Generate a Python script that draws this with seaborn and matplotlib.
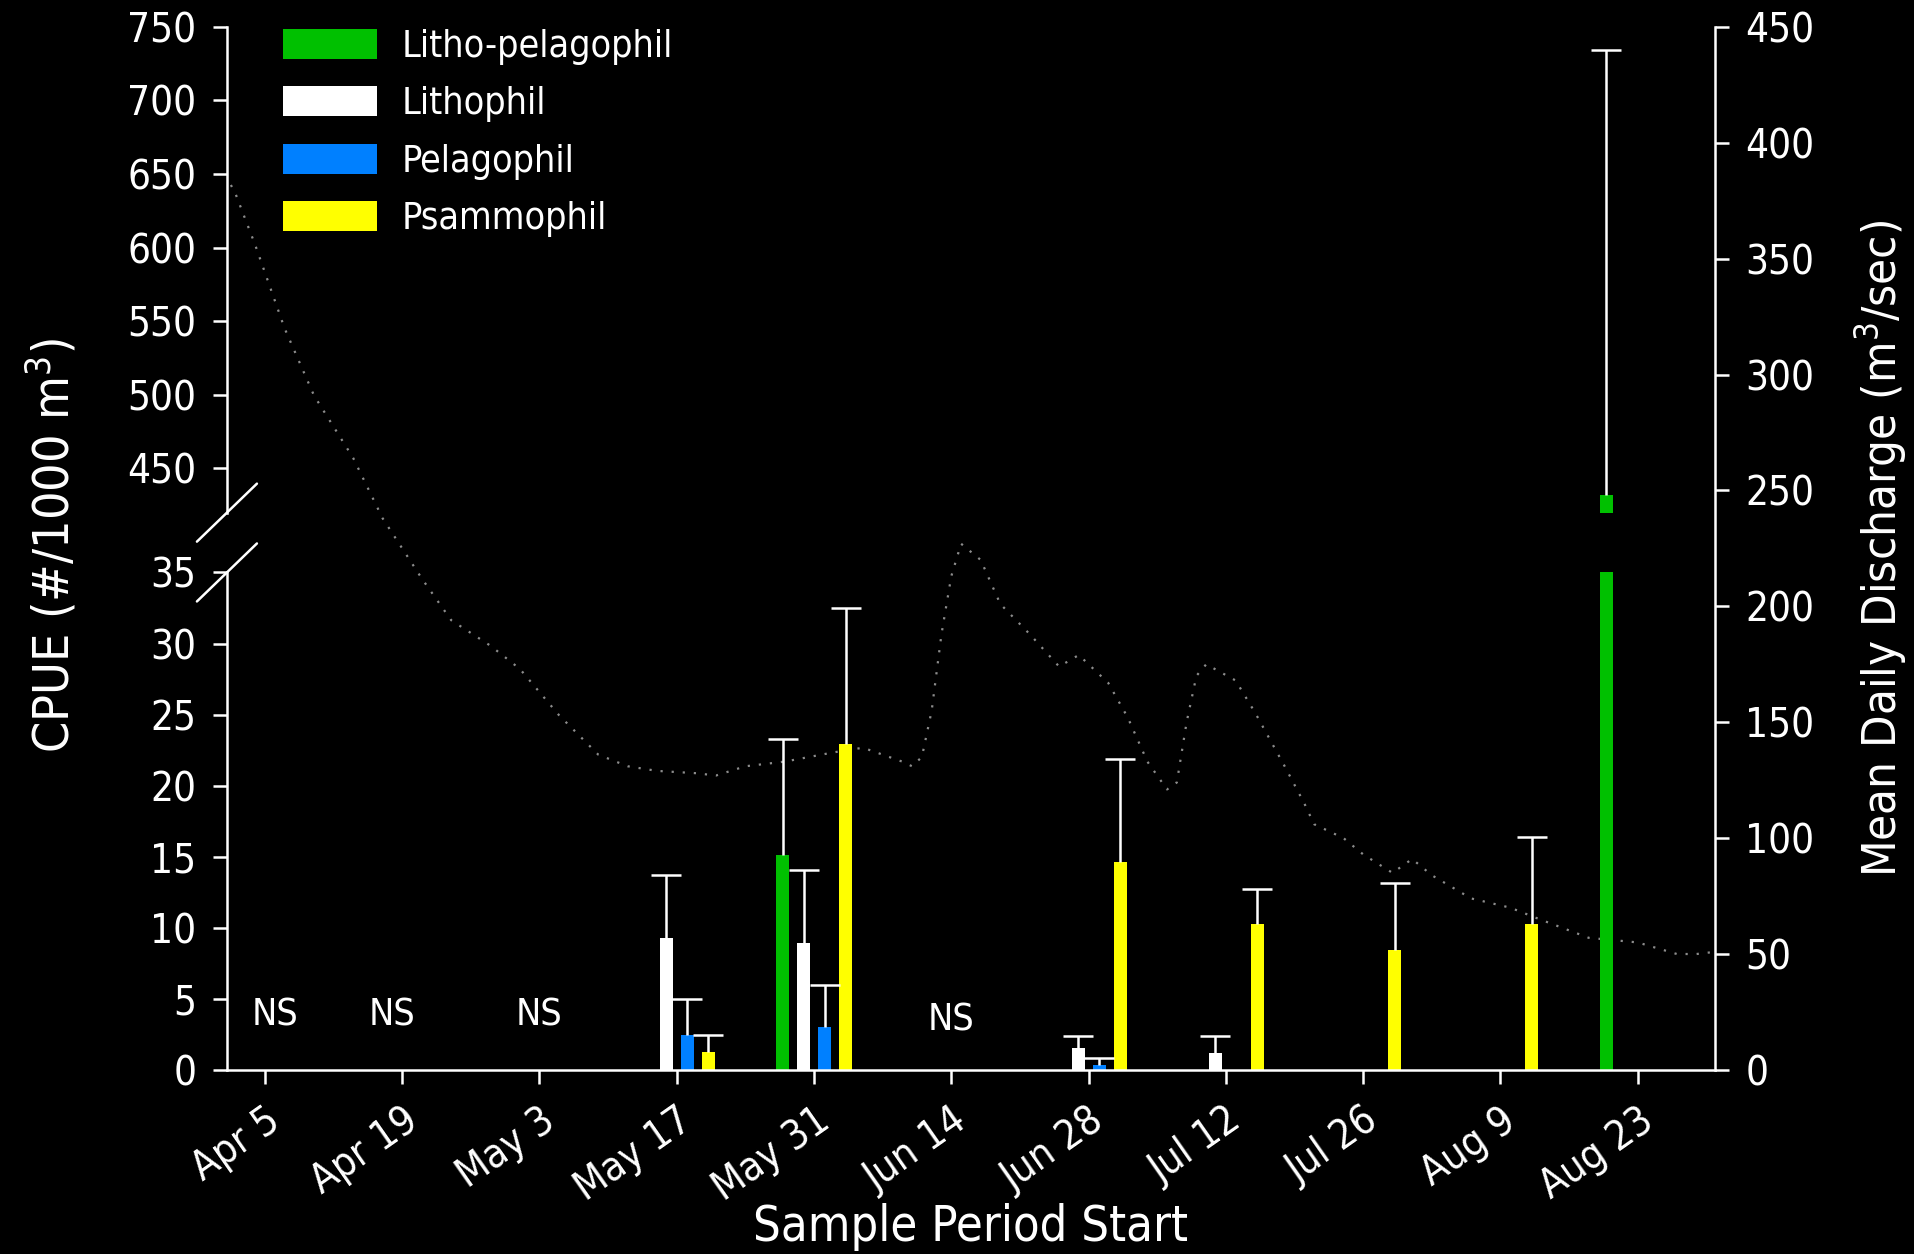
import numpy as np
import pandas as pd
import matplotlib
matplotlib.use("Agg")
import matplotlib.pyplot as plt
import matplotlib.dates as mdates
import seaborn as sns
from matplotlib.patches import Patch
from matplotlib.lines import Line2D
from matplotlib.ticker import FuncFormatter, MultipleLocator

# --- data ---
guilds = ['Litho-pelagophil', 'Lithophil', 'Pelagophil', 'Psammophil']
guild_colors = ['#00c000', '#ffffff', '#0080ff', '#ffff00']

bar_dates = ['2012-05-17', '2012-05-17', '2012-05-17',
             '2012-05-31', '2012-05-31', '2012-05-31', '2012-05-31',
             '2012-06-28', '2012-06-28', '2012-06-28',
             '2012-07-12', '2012-07-12',
             '2012-07-26', '2012-08-09', '2012-08-23']
bar_guilds = ['Lithophil', 'Pelagophil', 'Psammophil',
              'Litho-pelagophil', 'Lithophil', 'Pelagophil', 'Psammophil',
              'Lithophil', 'Pelagophil', 'Psammophil',
              'Lithophil', 'Psammophil',
              'Psammophil', 'Psammophil', 'Litho-pelagophil']
bar_cpue = [9.3, 2.47, 1.28,
            15.15, 8.9, 3.03, 22.9,
            1.57, 0.37, 14.6,
            1.22, 10.25,
            8.42, 10.25, 432.0]
bar_err = [4.4, 2.5, 1.19,
           8.1, 5.17, 2.97, 9.6,
           0.82, 0.48, 7.3,
           1.19, 2.45,
           4.73, 6.15, 302.0]

ns_dates = ['2012-04-06', '2012-04-18', '2012-05-03', '2012-06-14']
ns_y = [3.8, 3.8, 3.8, 3.45]

q_dates = ['2012-04-01', '2012-04-02', '2012-04-04', '2012-04-07', '2012-04-10',
           '2012-04-14', '2012-04-17', '2012-04-21', '2012-04-24', '2012-04-28',
           '2012-05-01', '2012-05-05', '2012-05-09', '2012-05-12', '2012-05-15',
           '2012-05-19', '2012-05-21', '2012-05-24', '2012-05-28', '2012-06-02',
           '2012-06-05', '2012-06-09', '2012-06-10', '2012-06-11', '2012-06-12',
           '2012-06-13', '2012-06-14', '2012-06-15', '2012-06-17', '2012-06-19',
           '2012-06-22', '2012-06-25', '2012-06-27', '2012-06-30', '2012-07-02',
           '2012-07-04', '2012-07-06', '2012-07-07', '2012-07-08', '2012-07-09',
           '2012-07-10', '2012-07-13', '2012-07-15', '2012-07-18', '2012-07-20',
           '2012-07-21', '2012-07-24', '2012-07-26', '2012-07-29', '2012-07-31',
           '2012-08-02', '2012-08-06', '2012-08-10', '2012-08-13', '2012-08-18',
           '2012-08-23', '2012-08-27', '2012-08-29', '2012-08-31']
q_vals = [386, 378, 356, 320, 291,
          264, 238, 212, 194, 183,
          173, 153, 136, 131, 129,
          128, 127, 131, 133, 137,
          139, 133, 131, 135, 155,
          188, 213, 227, 220, 201,
          188, 174, 179, 167, 152,
          133, 121, 124, 150, 170,
          175, 168, 154, 131, 115,
          106, 100, 93, 85, 91,
          84, 74, 70, 65, 57,
          55, 50, 50, 51]

tick_dates = pd.date_range('2012-04-05', '2012-08-23', freq='14D')

# --- style ---
sns.set_style("ticks")
plt.rcParams.update({
    'font.family': ['DejaVu Sans'],
    'font.stretch': 'condensed',
    'figure.facecolor': 'black',
    'axes.facecolor': 'none',
    'axes.edgecolor': 'white',
    'axes.linewidth': 1.8,
    'xtick.color': 'white', 'ytick.color': 'white',
    'text.color': 'white',
    'mathtext.fontset': 'custom',
    'mathtext.rm': 'DejaVu Sans:stretch=condensed',
    'mathtext.default': 'rm',
})

df = pd.DataFrame({'date': mdates.date2num(pd.to_datetime(bar_dates)),
                   'guild': bar_guilds, 'cpue': bar_cpue, 'err': bar_err})
q = pd.DataFrame({'date': mdates.date2num(pd.to_datetime(q_dates)), 'q': q_vals})

fig = plt.figure(figsize=(19.15, 12.54), dpi=100)
L, W = 0.1185, 0.7770
ax_r = fig.add_axes([L, 0.1468, W, 0.8318])
ax_lo = fig.add_axes([L, 0.1468, W, 0.3967])
ax_up = fig.add_axes([L, 0.5912, W, 0.3874])
ax_r.set_zorder(0)
ax_lo.set_zorder(1)
ax_up.set_zorder(2)

xlim = (mdates.date2num(pd.Timestamp('2012-04-01 03:00')),
        mdates.date2num(pd.Timestamp('2012-08-30 21:00')))

# discharge line (behind the bars)
sns.lineplot(data=q, x='date', y='q', ax=ax_r, color='#8c8c8c', lw=1.6,
             linestyle=(0, (1, 4)))
ax_r.set_xlim(xlim)
ax_r.set_ylim(0, 450)
ax_r.yaxis.set_major_locator(MultipleLocator(50))
ax_r.yaxis.tick_right()
ax_r.set_xticks([])
for s in ['left', 'top', 'bottom']:
    ax_r.spines[s].set_visible(False)
ax_r.set_xlabel('')
ax_r.set_ylabel('')

width = 0.612
slot = width * 14 / len(guilds)
offsets = np.array([(guilds.index(g) - 1.5) * slot for g in df['guild']])
xs = df['date'] + offsets

for ax in (ax_lo, ax_up):
    sns.barplot(data=df, x='date', y='cpue', hue='guild', hue_order=guilds,
                palette=guild_colors, native_scale=True, orient='x',
                width=width, gap=0.38, errorbar=None, saturation=1,
                linewidth=0, edgecolor='none', legend=False, ax=ax)
    # upper error bars only
    ax.vlines(xs, df['cpue'], df['cpue'] + df['err'], color='white', lw=1.8)
    ax.plot(xs, df['cpue'] + df['err'], ls='none', marker='_', ms=21.6,
            mew=1.8, color='white')
    ax.set_xlim(xlim)
    ax.spines['right'].set_visible(False)
    ax.spines['top'].set_visible(False)
    ax.set_xlabel('')
    ax.set_ylabel('')

for a in (ax_r, ax_lo, ax_up):
    a.tick_params(direction='out', length=10, width=1.8, labelsize=29, pad=12,
                  colors='white')

ax_lo.set_ylim(0, 35)
ax_lo.yaxis.set_major_locator(MultipleLocator(5))
ax_lo.set_xticks(mdates.date2num(tick_dates))
ax_lo.xaxis.set_major_formatter(FuncFormatter(
    lambda v, p: f"{mdates.num2date(v):%b} {mdates.num2date(v).day}"))
plt.setp(ax_lo.get_xticklabels(), rotation=35, ha='right', rotation_mode='anchor')

ax_up.set_ylim(420, 750)
ax_up.set_yticks(np.arange(450, 751, 50))
ax_up.spines['bottom'].set_visible(False)
ax_up.set_xticks([])

for d, y in zip(ns_dates, ns_y):
    ax_lo.text(mdates.date2num(pd.Timestamp(d)), y, 'NS', ha='center',
               va='center', fontsize=27, color='white')

# broken-axis marks
dx, dy = 30 / 1915, 29 / 1254
for yc in (0.5912, 0.5435):
    fig.add_artist(Line2D([L - dx, L + dx], [yc - dy, yc + dy],
                          transform=fig.transFigure, color='white', lw=1.8))

handles = [Patch(facecolor=c, edgecolor='none', label=g)
           for g, c in zip(guilds, guild_colors)]
fig.legend(handles=handles, loc='upper left', bbox_to_anchor=(0.1478, 0.977),
           frameon=False, fontsize=27, handlelength=2.5, handleheight=0.85,
           handletextpad=0.65, labelspacing=0.57, borderpad=0, borderaxespad=0)

fig.text(0.507, 0.0215, 'Sample Period Start', ha='center', va='center',
         fontsize=35)
fig.text(0.027, 0.5646, 'CPUE (#/1000 m$^3$)', ha='center', va='center',
         rotation=90, fontsize=36)
fig.text(0.982, 0.563, 'Mean Daily Discharge (m$^3$/sec)', ha='center',
         va='center', rotation=90, fontsize=34)

fig.savefig('out.png', dpi=100, facecolor='black')
